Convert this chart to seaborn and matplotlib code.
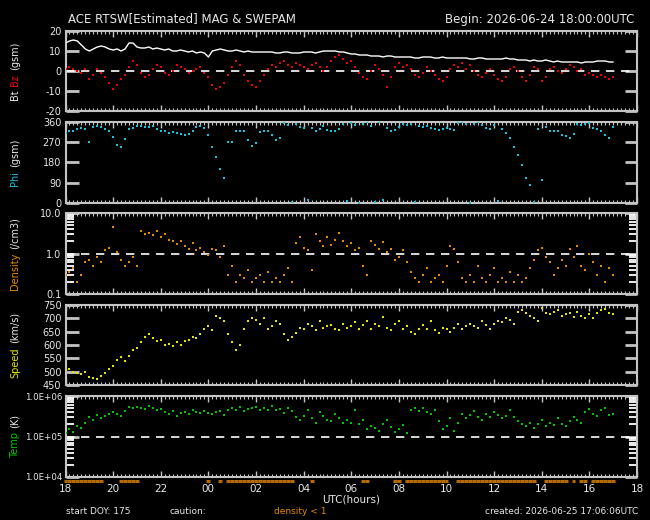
"""
ACE RTSW MAG & SWEPAM 24-hour summary plot
"""
import numpy as np
import pandas as pd
import matplotlib
matplotlib.use('Agg')
import matplotlib.pyplot as plt
import seaborn as sns
from matplotlib.ticker import FixedLocator, MultipleLocator, LogLocator, NullFormatter

sns.set_theme(style='dark')
plt.rcParams['font.family'] = ['DejaVu Sans']

# 10-minute samples, hours after 2026-06-24 18:00 UTC (18:00 .. 17:00)
hours = np.arange(139) / 6.0

bt = [14, 15, 15.5, 15, 13, 11,
      10, 11, 12, 12.5, 12, 11,
      10.5, 11, 10, 11, 14, 14,
      12, 11.5, 11.5, 12, 11, 11.5,
      11, 10.5, 11, 10, 10, 10.5,
      10, 9.5, 10, 9, 9.5, 9,
      7, 10, 10.5, 11, 10.5, 10,
      10, 10.5, 10, 9.5, 10, 9.5,
      9.5, 9.5, 9.5, 9.5, 9.5, 9,
      9, 9.5, 9.5, 9, 9, 9,
      9.5, 9.5, 9.5, 9, 9.5, 10,
      10, 10, 10, 9.5, 9.5, 9,
      8.5, 8.5, 8, 8, 8, 7.5,
      7.5, 7.5, 7, 7.5, 7.5, 7,
      7, 7, 7, 7, 6.5, 6.5,
      7, 7, 7, 6.5, 6.5, 7,
      6.5, 6.5, 6.5, 6.5, 6.5, 6.5,
      6, 6, 6.5, 6.5, 6, 6,
      6, 6, 6, 6.5, 6, 6,
      5.5, 5.5, 5.5, 5, 5.5, 5,
      5, 5.5, 5, 4.5, 5, 4.5,
      4.5, 4.5, 4.5, 4.5, 4, 4.5,
      4.5, 4.5, 5, 5, 5, 4.5,
      4.5]

bz = [1, 2, 1, 0, -1, 1,
      -4, -2, 1, -1, -3, -6,
      -9, -7, -4, -2, 2, 5,
      3, -1, -3, -2, 1, 3,
      2, -1, -2, 0, 3, 2,
      1, -1, 0, 1, 2, -1,
      -3, -7, -9, -8, -6, -2,
      2, 5, 3, -2, -5, -7,
      -8, -5, -2, 1, 3, 2,
      4, 5, 3, 2, 4, 3,
      2, 1, 3, 4, 2, 0,
      2, 5, 7, 8, 6, 4,
      5, 2, -1, -3, -4, 0,
      3, 1, -2, -8, -3, 2,
      4, 2, 3, 1, -2, -3,
      -1, 2, 0, -2, -4, -5,
      -3, 1, 3, 2, 4, 1,
      3, 0, -2, -3, -1, 1,
      -2, -4, -5, -3, 1, 2,
      0, -3, -5, -2, 2, 1,
      -5, -3, 1, 2, 0, -1,
      1, 3, 2, 0, 1, -2,
      -1, -2, -3, -2, -3, -4,
      -3]

phi = [312, 318, 322, 330, 335, 330,
       270, 338, 342, 336, 330, 318,
       292, 258, 250, 285, 328, 335,
       340, 342, 338, 336, 340, 330,
       322, 318, 312, 316, 310, 305,
       302, 308, 320, 336, 340, 332,
       300, 250, 205, 150, 110, 270,
       273, 320, 318, 322, 280, 255,
       265, 315, 320, 318, 300, 282,
       290, 355, 345, 5, 350, 338,
       332, 12, 335, 322, 328, 340,
       325, 318, 322, 330, 350, 8,
       355, 345, 2, 352, 358, 340,
       5, 358, 12, 332, 318, 325,
       338, 352, 345, 350, 3, 340,
       338, 342, 335, 330, 326, 330,
       335, 328, 324, 355, 358, 350,
       2, 352, 358, 345, 335, 330,
       345, 8, 328, 310, 290, 250,
       215, 170, 110, 80, 5, 330,
       100, 336, 320, 318, 322, 300,
       296, 290, 305, 350, 345, 352,
       355, 335, 330, 320, 300, 290,
       338]

density = [0.3, 0.35, 0.45, 0.2, 0.3, 0.6,
           0.7, 0.5, 0.8, 0.6, 1.2, 1.4,
           4.5, 1.1, 0.7, 0.5, 0.6, 0.8,
           0.5, 3.5, 3.0, 3.2, 2.8, 3.5,
           2.5, 3.0, 2.2, 2.0, 1.7, 2.0,
           1.5, 1.3, 1.8, 1.2, 1.4, 1.1,
           0.9, 1.3, 1.2, 0.8, 1.5, 0.3,
           0.5, 0.2, 0.3, 0.25, 0.4, 0.2,
           0.25, 0.3, 0.2, 0.35, 0.2, 0.25,
           0.2, 0.3, 0.45, 0.2, 1.8, 2.5,
           1.4, 1.2, 0.4, 3.0, 2.0, 1.5,
           2.5, 1.6, 2.2, 3.2, 2.0, 1.5,
           1.8, 1.2, 1.4, 0.5, 0.3, 2.0,
           1.6, 1.3, 1.9, 1.1, 1.3, 0.7,
           0.8, 1.2, 0.6, 0.35, 0.25, 0.2,
           0.3, 0.45, 0.2, 0.25, 0.3, 0.2,
           0.5, 1.5, 1.3, 0.6, 0.25, 0.2,
           0.3, 0.2, 0.5, 0.25, 0.2, 0.3,
           0.45, 0.2, 0.25, 0.2, 0.35, 0.2,
           0.3, 0.2, 0.25, 0.45, 0.7, 1.2,
           1.4, 0.8, 0.6, 0.3, 0.45, 0.7,
           0.5, 1.3, 0.8, 1.5, 0.5, 0.4,
           1.0, 0.6, 0.3, 0.5, 0.2, 0.45,
           0.3]

speed = [505, 510, 500, 495, 490, 498,
         480, 475, 472, 485, 495, 510,
         520, 545, 555, 540, 560, 580,
         590, 610, 630, 640, 625, 615,
         620, 600, 605, 595, 610, 600,
         615, 620, 630, 625, 640, 660,
         670, 655, 710, 700, 690, 640,
         610, 580, 600, 660, 690, 700,
         695, 680, 700, 660, 670, 690,
         680, 640, 620, 630, 645, 665,
         660, 680, 670, 655, 690, 665,
         670, 675, 660, 655, 680, 665,
         670, 685, 660, 675, 690, 660,
         680, 670, 705, 665, 655, 680,
         690, 660, 670, 650, 640, 660,
         675, 660, 690, 655, 645, 665,
         660, 650, 665, 680, 660, 670,
         680, 670, 665, 690, 675, 660,
         680, 690, 685, 700, 695, 680,
         725, 730, 720, 710, 700, 690,
         740, 720, 715, 725, 730, 710,
         715, 720, 705, 725, 710, 700,
         715, 700, 720, 730, 735, 720,
         715]

temp = [1.2e5, 1.5e5, 1.3e5, 1.8e5, 1.6e5, 2.2e5,
        3.0e5, 2.6e5, 3.4e5, 2.8e5, 3.2e5, 3.6e5,
        4.0e5, 3.5e5, 3.2e5, 4.2e5, 5.5e5, 5.0e5,
        5.5e5, 5.2e5, 4.8e5, 5.8e5, 5.0e5, 4.5e5,
        4.8e5, 4.0e5, 3.6e5, 4.2e5, 3.2e5, 3.8e5,
        4.0e5, 3.6e5, 4.5e5, 4.0e5, 3.8e5, 4.2e5,
        3.8e5, 3.5e5, 4.0e5, 4.2e5, 3.4e5, 4.5e5,
        5.0e5, 4.6e5, 5.5e5, 4.2e5, 4.8e5, 5.2e5,
        5.5e5, 4.4e5, 5.0e5, 4.6e5, 5.8e5, 4.5e5,
        4.8e5, 3.8e5, 5.0e5, 4.2e5, 3.0e5, 2.6e5,
        3.2e5, 4.5e5, 2.8e5, 2.2e5, 4.0e5, 3.2e5,
        2.6e5, 2.4e5, 3.5e5, 2.8e5, 2.2e5, 2.5e5,
        2.2e5, 4.4e5, 2.0e5, 2.6e5, 1.5e5, 1.8e5,
        1.6e5, 1.4e5, 2.0e5, 2.6e5, 1.7e5, 1.3e5,
        1.5e5, 1.9e5, 1.2e5, 4.5e5, 5.0e5, 4.2e5,
        5.2e5, 4.0e5, 3.5e5, 4.6e5, 2.4e5, 1.5e5,
        1.8e5, 2.8e5, 1.4e5, 2.2e5, 3.6e5, 2.8e5,
        3.4e5, 4.2e5, 3.0e5, 2.6e5, 3.6e5, 3.0e5,
        4.0e5, 3.4e5, 2.8e5, 3.2e5, 4.5e5, 3.0e5,
        2.4e5, 2.0e5, 1.8e5, 2.2e5, 1.6e5, 2.0e5,
        2.6e5, 1.8e5, 2.2e5, 1.9e5, 2.8e5, 2.0e5,
        1.8e5, 2.4e5, 3.0e5, 2.5e5, 2.2e5, 4.0e5,
        4.8e5, 3.6e5, 3.2e5, 4.4e5, 5.0e5, 3.4e5,
        3.6e5]

hour_ticks = [0, 2, 4, 6, 8, 10, 12, 14, 16, 18, 20, 22, 24]
hour_labels = ['18', '20', '22', '00', '02', '04', '06', '08', '10', '12', '14', '16', '18']

df = pd.DataFrame({'hours': hours, 'bt': bt, 'bz': bz, 'phi': phi,
                   'density': density, 'speed': speed, 'temp': temp})

FRAME = '#c4c4c4'
TXT = '#e8e8e8'
C_BZ = '#f00000'
C_PHI = '#19c3e0'
C_DEN = '#e88a00'
C_SPD = '#e6e600'
C_TMP = '#00c800'

W, H = 650, 520
fig = plt.figure(figsize=(6.5, 5.2), dpi=100, facecolor='black')

# panel frames in pixels: (top, bottom)
rows = [(31, 111), (122, 203), (213, 294), (305, 385), (396, 477)]
x0, x1 = 65.5, 637
axes = []
for top, bot in rows:
    ax = fig.add_axes([x0 / W, 1 - bot / H, (x1 - x0) / W, (bot - top) / H])
    axes.append(ax)
ax1, ax2, ax3, ax4, ax5 = axes


def style_axis(ax, log=False):
    ax.set_facecolor('black')
    ax.grid(False)
    for sp in ax.spines.values():
        sp.set_color(FRAME)
        sp.set_linewidth(1.5)
    ax.set_xlim(0, 24)
    ax.xaxis.set_major_locator(FixedLocator(hour_ticks))
    ax.xaxis.set_minor_locator(MultipleLocator(1 / 6))
    ax.tick_params(axis='x', which='both', direction='in', top=True, bottom=True,
                   colors=FRAME, labelcolor=TXT, labelsize=7.5, pad=5)
    ax.tick_params(axis='x', which='major', length=4, width=1)
    ax.tick_params(axis='x', which='minor', length=2, width=0.8)
    ax.tick_params(axis='y', which='major', direction='in', left=True, right=True,
                   length=9, width=2, colors=FRAME, labelcolor=TXT, labelsize=7, pad=3)
    if log:
        ax.yaxis.set_minor_locator(LogLocator(base=10, subs=np.arange(2, 10), numticks=10))
        ax.yaxis.set_minor_formatter(NullFormatter())
        ax.tick_params(axis='y', which='minor', direction='in', left=True, right=True,
                       length=6, width=1.3, colors='white')
    ax.set_xlabel('')
    ax.set_ylabel('')


def dashed(ax, y):
    ax.axhline(y, color='white', lw=1.2, ls=(0, (5, 4)), zorder=1)


pt = dict(marker='s', s=2.5, linewidth=0, legend=False, zorder=3)

# Bt / Bz
dashed(ax1, 0)
sns.lineplot(data=df, x='hours', y='bt', ax=ax1, color='white', lw=1.0, estimator=None, zorder=3)
sns.scatterplot(data=df, x='hours', y='bz', ax=ax1, color=C_BZ, **pt)
ax1.set_ylim(-20, 20)
ax1.yaxis.set_major_locator(FixedLocator([-20, -10, 0, 10, 20]))
ax1.set_yticklabels(['-20', '-10', '0', '10', '20'])
style_axis(ax1)

# Phi
sns.scatterplot(data=df, x='hours', y='phi', ax=ax2, color=C_PHI, **pt)
ax2.set_ylim(0, 360)
ax2.yaxis.set_major_locator(FixedLocator([0, 90, 180, 270, 360]))
ax2.set_yticklabels(['0', '90', '180', '270', '360'])
style_axis(ax2)

# Density
ax3.set_yscale('log')
dashed(ax3, 1.0)
sns.scatterplot(data=df, x='hours', y='density', ax=ax3, color=C_DEN, **pt)
ax3.set_ylim(0.1, 10)
ax3.yaxis.set_major_locator(FixedLocator([0.1, 1, 10]))
ax3.set_yticklabels(['0.1', '1.0', '10.0'])
style_axis(ax3, log=True)

# Speed
sns.scatterplot(data=df, x='hours', y='speed', ax=ax4, color=C_SPD, **pt)
ax4.set_ylim(450, 750)
ax4.yaxis.set_major_locator(FixedLocator([450, 500, 550, 600, 650, 700, 750]))
ax4.set_yticklabels(['450', '500', '550', '600', '650', '700', '750'])
style_axis(ax4)

# Temperature
ax5.set_yscale('log')
dashed(ax5, 1e5)
sns.scatterplot(data=df, x='hours', y='temp', ax=ax5, color=C_TMP, **pt)
ax5.set_ylim(1e4, 1e6)
ax5.yaxis.set_major_locator(FixedLocator([1e4, 1e5, 1e6]))
ax5.set_yticklabels(['1.0E+04', '1.0E+05', '1.0E+06'])
style_axis(ax5, log=True)
ax5.tick_params(axis='y', which='major', labelsize=6.2, pad=2)

for ax in axes[:-1]:
    ax.tick_params(axis='x', labelbottom=False)
ax5.set_xticklabels(hour_labels)

# density < 1 caution bar under the last panel
low = df[df['density'] < 1]
ax5.hlines([-0.05] * len(low), low['hours'] - 1 / 12, low['hours'] + 1 / 12,
           transform=ax5.get_xaxis_transform(), color='#b86c00', lw=2.2, clip_on=False)


def stacked_ylabel(parts, yc, x=15 / W, size=7):
    renderer = fig.canvas.get_renderer()
    items = []
    for s, c in parts:
        t = fig.text(x, 0, s, color=c, rotation=90, fontsize=size, ha='center', va='bottom')
        items.append((t, t.get_window_extent(renderer).height / fig.bbox.height))
    gap = 4 / H
    total = sum(h for _, h in items) + gap * (len(items) - 1)
    y = yc - total / 2
    for t, h in items:
        t.set_y(y)
        y += h + gap


labels = [
    [('Bt', TXT), ('Bz', C_BZ), ('(gsm)', TXT)],
    [('Phi', C_PHI), ('(gsm)', TXT)],
    [('Density', C_DEN), ('(/cm3)', TXT)],
    [('Speed', C_SPD), ('(km/s)', TXT)],
    [('Temp', C_TMP), ('(K)', TXT)],
]
for (top, bot), parts in zip(rows, labels):
    stacked_ylabel(parts, 1 - (top + bot) / 2 / H)

fig.text(68 / W, 1 - 19 / H, 'ACE RTSW[Estimated] MAG & SWEPAM', color=TXT,
         fontsize=8.5, ha='left', va='center')
fig.text(634 / W, 1 - 19 / H, 'Begin: 2026-06-24 18:00:00UTC', color=TXT,
         fontsize=8.5, ha='right', va='center')
fig.text((x0 + x1) / 2 / W, 1 - 500 / H, 'UTC(hours)', color=TXT, fontsize=7.5,
         ha='center', va='center')
fig.text(66 / W, 1 - 512 / H, 'start DOY: 175', color=TXT, fontsize=6.5, ha='left', va='center')
fig.text(170 / W, 1 - 512 / H, 'caution:', color=TXT, fontsize=6.5, ha='left', va='center')
fig.text(274 / W, 1 - 512 / H, 'density < 1', color=C_DEN, fontsize=6.5, ha='left', va='center')
fig.text(638 / W, 1 - 512 / H, 'created: 2026-06-25 17:06:06UTC', color=TXT, fontsize=6.5,
         ha='right', va='center')

fig.savefig('out.png', dpi=100, facecolor='black')
print("Generated: out.png")
